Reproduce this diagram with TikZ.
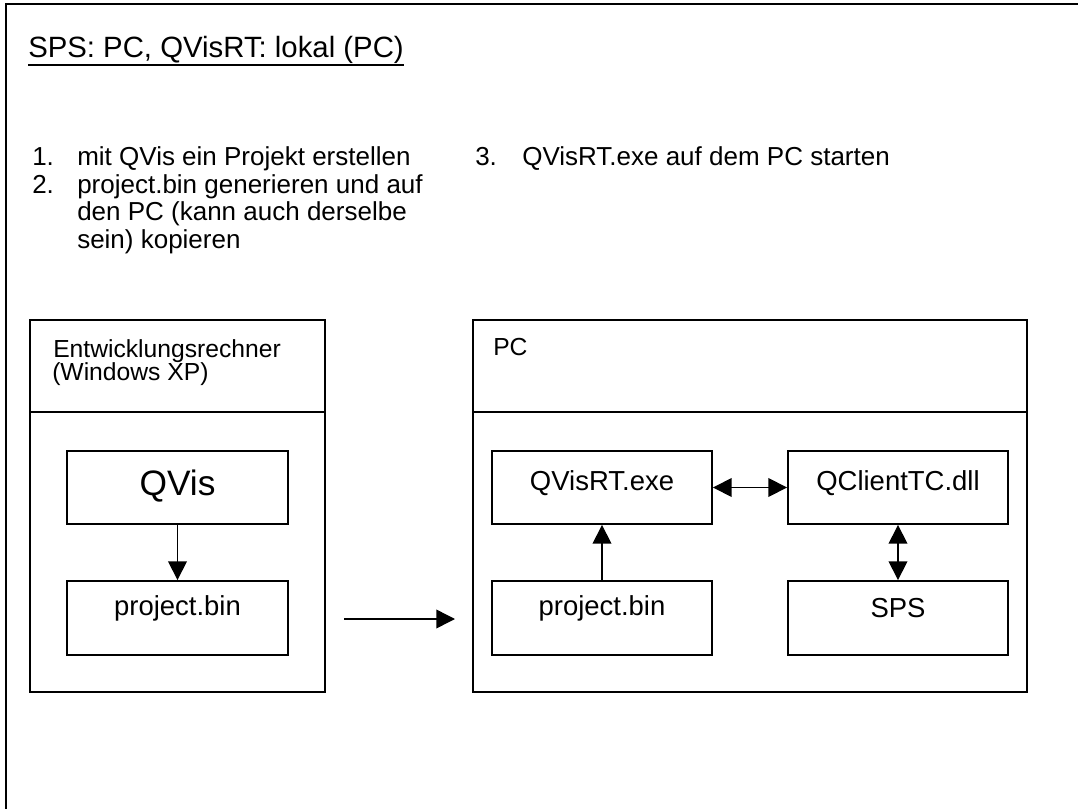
\documentclass[tikz,border=0pt]{standalone}
\usepackage{fontspec}
\setmainfont{Liberation Sans}
\usetikzlibrary{arrows.meta,fit}
\begin{document}
\begin{tikzpicture}[x=0.75pt,y=-0.75pt,
  box/.style={draw,line width=1.4pt,inner sep=0pt},
  divline/.style={line width=2.2pt},
  lbl/.style={anchor=base,inner sep=0pt,font=\fontsize{20.6}{24}\selectfont},
  hdr/.style={anchor=base west,inner sep=0pt,font=\fontsize{18.5}{20}\selectfont},
  item/.style={anchor=base west,inner sep=0pt,font=\fontsize{19.5}{22}\selectfont},
  tip/.style={Triangle[length=14pt,width=14pt]},
  conn/.style={line width=1.1pt,-{Triangle[length=14pt,width=14pt]}},
  dconn/.style={line width=1.1pt,{Triangle[length=14pt,width=14pt]}-{Triangle[length=14pt,width=14pt]}}]
\useasboundingbox (0,0) rectangle (1078,809);
% outer frame
\draw[line width=1.5pt] (6,812) -- (6,4) -- (1082,4);
% title
\node[anchor=base west,inner sep=0pt,font=\fontsize{22}{26}\selectfont] (title) at (28,58) {SPS: PC, QVisRT: lokal (PC)};
\draw[line width=1.5pt] ([yshift=-5pt]title.base west) -- ([yshift=-5pt]title.base east);
% list
\node[item] (n1) at (32,166) {1.};
\node[item] (t1) at (77,166) {mit QVis ein Projekt erstellen};
\node[item] (n2) at (32,193.5) {2.};
\node[item] (t2) at (77,193.5) {project.bin generieren und auf};
\node[item] (t2b) at (77,221) {den PC (kann auch derselbe};
\node[item] (t2c) at (77,248.5) {sein) kopieren};
\node[item] (n3) at (475,166) {3.};
\node[item] (t3) at (522,166) {QVisRT.exe auf dem PC starten};
% left container
\node[box,fit={(30,320)(325,692)}] (dev) {};
\draw[divline] (dev.west |- 0,412) -- (dev.east |- 0,412);
\node[hdr] (devh) at (53,357) {Entwicklungsrechner};
\node[hdr] (devh2) at (52,380.5) {(Windows XP)};
\node[box,fit={(67,451)(288,524)}] (qvis) {};
\node[lbl,font=\fontsize{26.5}{30}\selectfont] (qvisl) at (177.5,495) {QVis};
\node[box,fit={(67,581)(288,655)}] (pb1) {};
\node[lbl] (pb1l) at (177.5,615) {project.bin};
\draw[conn] (qvis) -- (pb1);
% transfer arrow
\coordinate (ta) at (344,619);
\coordinate (tb) at (455,619);
\draw[conn] (ta) -- (tb);
% right container
\node[box,fit={(473,320)(1027,692)}] (pc) {};
\draw[divline] (pc.west |- 0,412) -- (pc.east |- 0,412);
\node[hdr] (pch) at (493,355) {PC};
\node[box,fit={(492,451)(712,524)}] (qvrt) {};
\node[lbl] (qvrtl) at (602,490) {QVisRT.exe};
\node[box,fit={(788,451)(1008,524)}] (qct) {};
\node[lbl] (qctl) at (898,490) {QClientTC.dll};
\node[box,fit={(492,581)(712,655)}] (pb2) {};
\node[lbl] (pb2l) at (602,615) {project.bin};
\node[box,fit={(788,581)(1008,655)}] (sps) {};
\node[lbl] (spsl) at (898,617) {SPS};
\draw[conn] (pb2) -- (qvrt);
\draw[dconn] (qvrt) -- (qct);
\draw[dconn] (qct) -- (sps);
\end{tikzpicture}
\end{document}
